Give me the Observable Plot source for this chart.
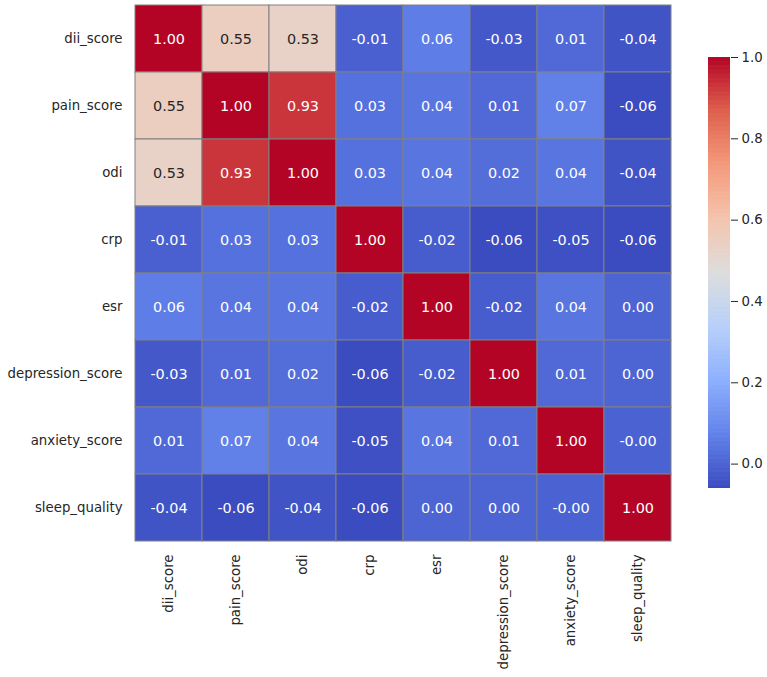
<!DOCTYPE html>
<html>
<head>
<meta charset="utf-8">
<script src="https://cdn.jsdelivr.net/npm/d3@7"></script>
<script src="https://cdn.jsdelivr.net/npm/@observablehq/plot@0.6"></script>
<style>
  body { margin: 0; background: #fff; }
  #chart { position: relative; width: 767px; height: 677px; }
  #chart svg { position: absolute; top: 0; }
</style>
</head>
<body>
<div id="chart"></div>
<script>
// Variables of the correlation matrix (rows top to bottom, columns left to right)
const variables = ["dii_score", "pain_score", "odi", "crp", "esr", "depression_score", "anxiety_score", "sleep_quality"];

// Pearson correlations, one row per variable
const dii_score        = [1.00, 0.55, 0.53, -0.01, 0.06, -0.03, 0.01, -0.04];
const pain_score       = [0.55, 1.00, 0.93, 0.03, 0.04, 0.01, 0.07, -0.06];
const odi              = [0.53, 0.93, 1.00, 0.03, 0.04, 0.02, 0.04, -0.04];
const crp              = [-0.01, 0.03, 0.03, 1.00, -0.02, -0.06, -0.05, -0.06];
const esr              = [0.06, 0.04, 0.04, -0.02, 1.00, -0.02, 0.04, 0.00];
const depression_score = [-0.03, 0.01, 0.02, -0.06, -0.02, 1.00, 0.01, 0.00];
const anxiety_score    = [0.01, 0.07, 0.04, -0.05, 0.04, 0.01, 1.00, -0.004];
const sleep_quality    = [-0.04, -0.06, -0.04, -0.06, 0.00, 0.00, -0.004, 1.00];

// Colour bar ticks
const colorbarTicks = [0.0, 0.2, 0.4, 0.6, 0.8, 1.0];

const matrix = [dii_score, pain_score, odi, crp, esr, depression_score, anxiety_score, sleep_quality];
const cells = variables.flatMap((row, i) => variables.map((col, j) => ({row, col, value: matrix[i][j]})));

// Diverging "coolwarm" ramp spread over the data range
const vmin = d3.min(cells, d => d.value) - 0.0;
const vmax = 1.0;
const coolwarm = ["#3b4cc0", "#6282ea", "#8db0fe", "#b8d0f9", "#dddddd", "#f5c4ad", "#f49a7b", "#de604d", "#b40426"];
const colorOptions = {
  type: "linear",
  domain: coolwarm.map((_, i) => vmin + (vmax - vmin) * i / (coolwarm.length - 1)),
  range: coolwarm,
  interpolate: "rgb",
  clamp: true
};
const colorScale = Plot.scale({color: colorOptions});

// Dark annotation text on light cells, white on dark ones
function luminance(color) {
  const c = d3.rgb(color);
  const lin = v => { v /= 255; return v <= 0.03928 ? v / 12.92 : Math.pow((v + 0.055) / 1.055, 2.4); };
  return 0.2126 * lin(c.r) + 0.7152 * lin(c.g) + 0.0722 * lin(c.b);
}
const isLight = d => luminance(colorScale.apply(d.value)) > 0.408;
const fmt = d => d.value.toFixed(2);

const font = "'DejaVu Sans', 'Liberation Sans', sans-serif";

const heatmap = Plot.plot({
  width: 767,
  height: 677,
  marginLeft: 134,
  marginRight: 95,
  marginTop: 4,
  marginBottom: 135,
  x: {domain: variables, padding: 0, label: null, tickSize: 0, tickPadding: 12, tickRotate: -90},
  y: {domain: variables, padding: 0, label: null, tickSize: 0, tickPadding: 12},
  color: colorOptions,
  style: {fontFamily: font, fontSize: "13.3px", color: "#262626", background: "transparent"},
  marks: [
    Plot.cell(cells, {x: "col", y: "row", fill: "value", stroke: "gray", strokeWidth: 1, inset: 0}),
    Plot.text(cells.filter(isLight), {x: "col", y: "row", text: fmt, fill: "#262626", fontSize: 14.4}),
    Plot.text(cells.filter(d => !isLight(d)), {x: "col", y: "row", text: fmt, fill: "white", fontSize: 14.4})
  ]
});

// Vertical colour bar
const step = 0.002;
const stops = d3.range(vmin, vmax, step);
const colorbar = Plot.plot({
  width: 67,
  height: 677,
  marginLeft: 8,
  marginRight: 37,
  marginTop: 57,
  marginBottom: 189,
  x: {domain: [0, 1], axis: null},
  y: {domain: [vmin, vmax], axis: "right", ticks: colorbarTicks, tickFormat: ".1f", tickSize: 7, tickPadding: 4, label: null},
  color: colorOptions,
  style: {fontFamily: font, fontSize: "13.3px", color: "#262626", background: "transparent"},
  marks: [
    Plot.rect(stops, {x1: 0, x2: 1, y1: d => d, y2: d => Math.min(d + step * 1.8, vmax), fill: d => d + step / 2})
  ]
});
colorbar.style.left = "700px";

const chart = document.getElementById("chart");
chart.append(heatmap, colorbar);
</script>
</body>
</html>
